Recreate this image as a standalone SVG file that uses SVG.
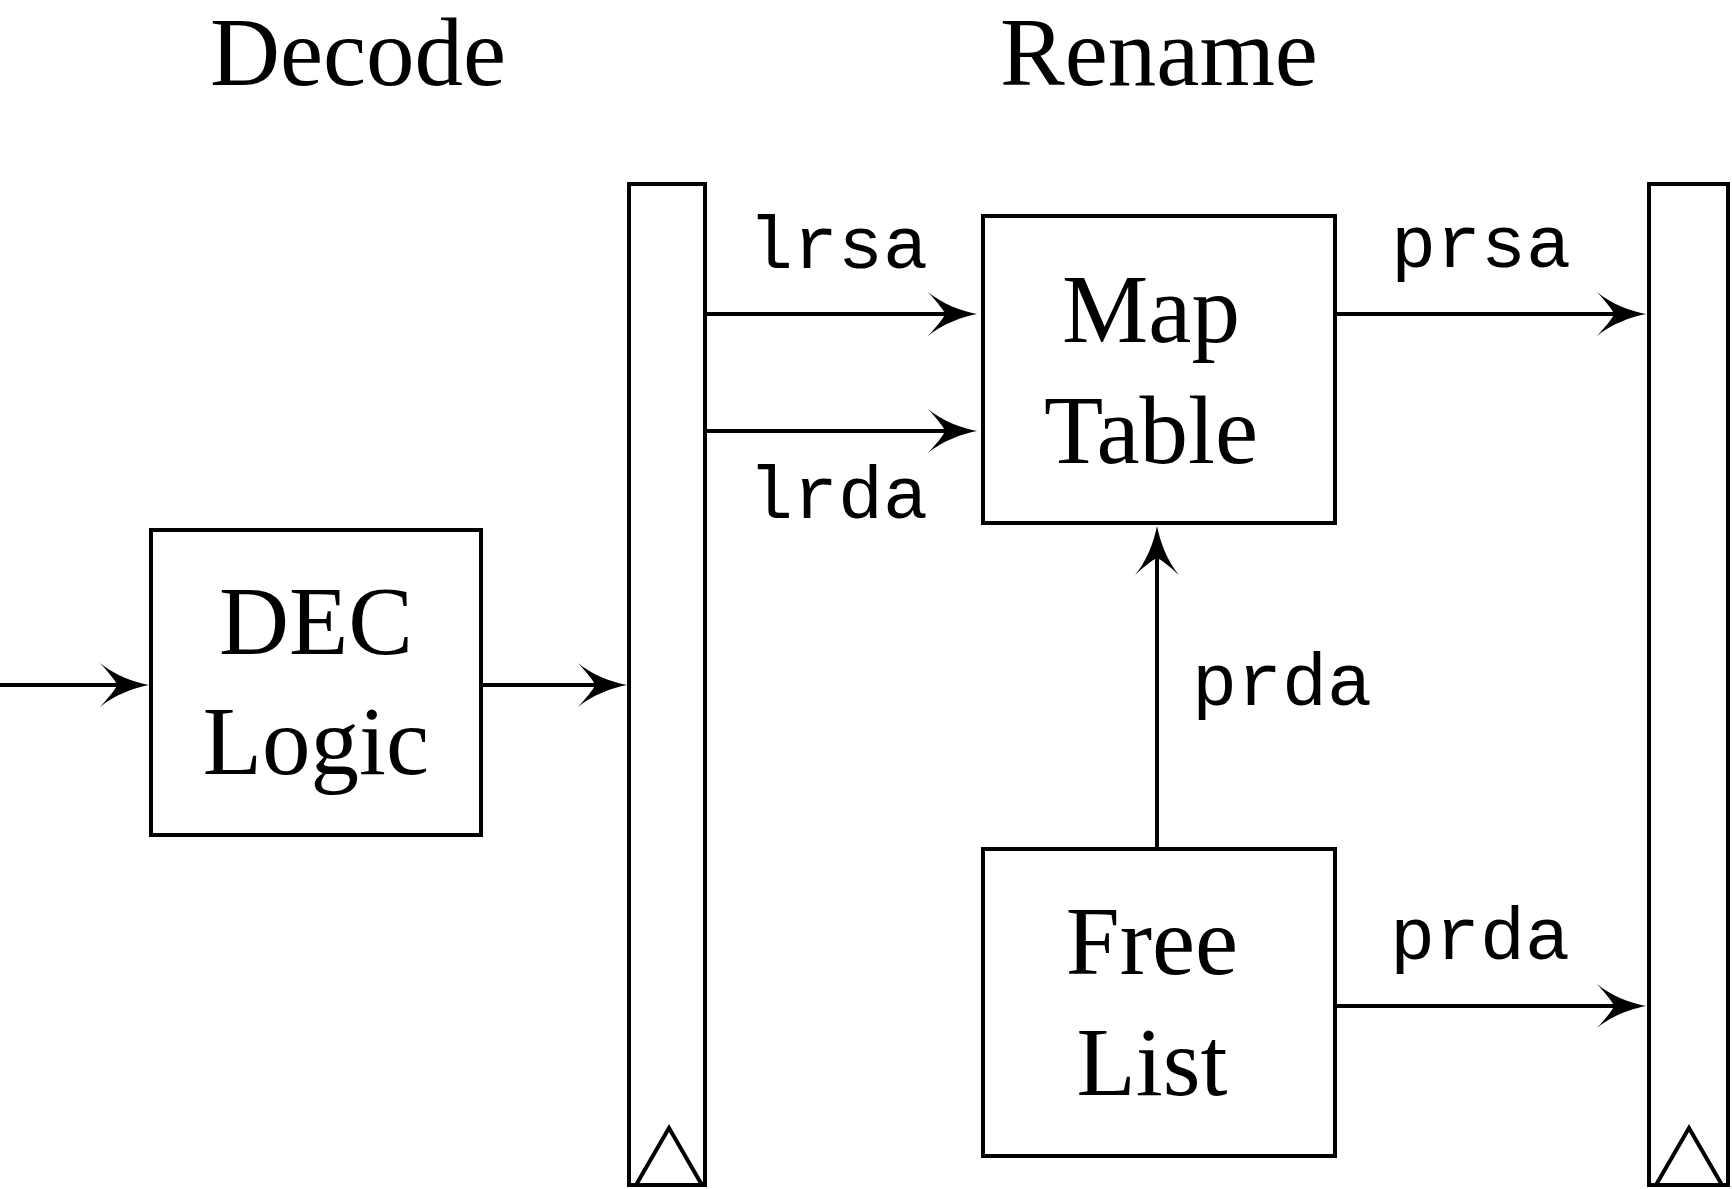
<svg xmlns="http://www.w3.org/2000/svg" width="1732" height="1189" viewBox="0 0 1732 1189">
<style>
.box{fill:#fff;stroke:#000;stroke-width:4}
.tri{fill:none;stroke:#000;stroke-width:4;stroke-linejoin:miter}
.ln{fill:none;stroke:#000;stroke-width:4;marker-end:url(#arr)}
.t{font-family:"Liberation Serif","Times New Roman",serif;font-size:97px;fill:#000;text-anchor:middle}
.m{font-family:"Liberation Mono","Courier New",monospace;font-size:75px;fill:#000;text-anchor:middle}
</style>
<defs>
<marker id="arr" markerUnits="userSpaceOnUse" markerWidth="60" markerHeight="50" viewBox="-55 -25 60 50" refX="-20" refY="0" orient="auto" overflow="visible">
<path d="M0,0 C-15,-3 -35,-10 -49,-22 C-40,-12 -34,-5 -32,0 C-34,5 -40,12 -49,22 C-35,10 -15,3 0,0 Z" fill="#000"/>
</marker>
</defs>
<g id="titles">
<text class="t" x="358" y="85">Decode</text>
<text class="t" x="1159" y="85">Rename</text>
</g>
<g id="reg1">
<rect class="box" x="629" y="184" width="76" height="1001"/>
<polyline class="tri" points="636,1185 669,1128 702,1185"/>
</g>
<g id="reg2">
<rect class="box" x="1649" y="184" width="79" height="1001"/>
<polyline class="tri" points="1656,1185 1689,1128 1722,1185"/>
</g>
<g id="dec">
<rect class="box" x="151" y="530" width="330" height="305"/>
<text class="t" x="316" y="654">DEC</text>
<text class="t" x="316" y="774">Logic</text>
</g>
<g id="map">
<rect class="box" x="983" y="216" width="352" height="307"/>
<text class="t" x="1151" y="342">Map</text>
<text class="t" x="1151" y="463">Table</text>
</g>
<g id="free">
<rect class="box" x="983" y="849" width="352" height="307"/>
<text class="t" x="1152" y="974">Free</text>
<text class="t" x="1152" y="1095">List</text>
</g>
<g id="connectors">
<line class="ln" x1="0" y1="685" x2="129" y2="685"/>
<line class="ln" x1="483" y1="685" x2="607" y2="685"/>
<line class="ln" x1="707" y1="314" x2="957" y2="314"/>
<line class="ln" x1="707" y1="431" x2="957" y2="431"/>
<line class="ln" x1="1337" y1="314" x2="1626" y2="314"/>
<line class="ln" x1="1337" y1="1006" x2="1626" y2="1006"/>
<line class="ln" x1="1157" y1="848" x2="1157" y2="546"/>
</g>
<g id="labels">
<text class="m" x="838" y="268">lrsa</text>
<text class="m" x="838" y="518">lrda</text>
<text class="m" x="1481" y="267">prsa</text>
<text class="m" x="1282" y="705">prda</text>
<text class="m" x="1480" y="959">prda</text>
</g>
</svg>
